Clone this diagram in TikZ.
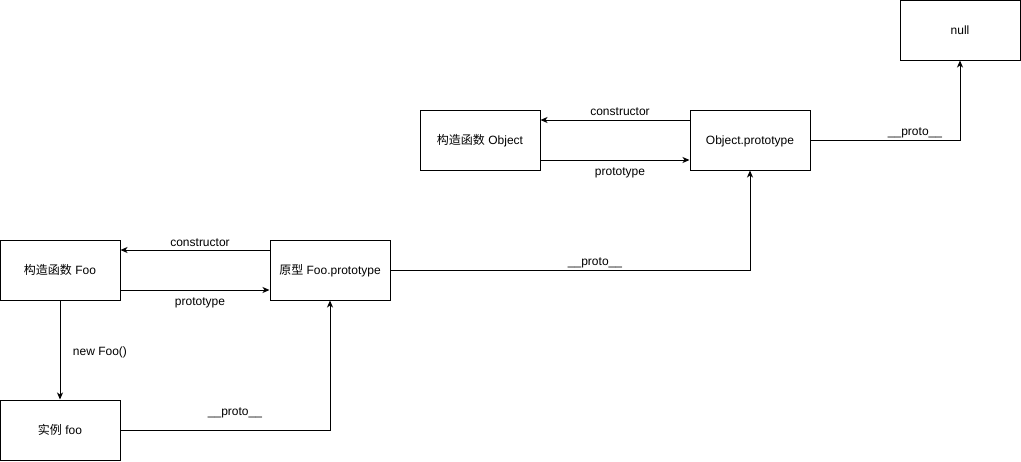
\documentclass[tikz,border=0pt]{standalone}
\usepackage{fontspec}
\setmainfont{Liberation Sans}
\newfontfamily\cjk{Noto Sans CJK SC}
\usetikzlibrary{arrows.meta}
\begin{document}
\begin{tikzpicture}[x=1pt,y=-1pt,
  box/.style={draw,line width=1pt,minimum width=120pt,minimum height=60pt,inner sep=0pt,font=\fontsize{12}{14}\selectfont,text height=10pt,text depth=2pt},
  conn/.style={line width=1pt,-{Stealth[length=7pt,width=6pt,inset=2pt]}},
  lbl/.style={font=\fontsize{12}{14}\selectfont,inner sep=1pt,yshift=-1.5pt}]
\useasboundingbox (0,0) rectangle (1021,461);
\node[box] (null) at (960,30) {null};
\node[box] (cobj) at (480,140) {{\cjk 构造函数} Object};
\node[box] (oproto) at (750,140) {Object.prototype};
\node[box] (cfoo) at (60,270) {{\cjk 构造函数} Foo};
\node[box] (fproto) at (330,270) {{\cjk 原型} Foo.prototype};
\node[box] (foo) at (60,430) {{\cjk 实例} foo};
% Object
\draw[conn] (oproto.west |- 0,120) -- (cobj.east |- 0,120);
\node[lbl] (l1) at (620,110) {constructor};
\draw[conn] (cobj.east |- 0,160) -- (oproto.west |- 0,160);
\node[lbl] (l2) at (620,171) {prototype};
\draw[conn] (oproto.east) -| (null.south);
\node[lbl] (l3) at (915,131) {\_\_proto\_\_};
% Foo
\draw[conn] (fproto.west |- 0,250) -- (cfoo.east |- 0,250);
\node[lbl] (l4) at (200,241) {constructor};
\draw[conn] (cfoo.east |- 0,290) -- (fproto.west |- 0,290);
\node[lbl] (l5) at (200,301) {prototype};
\draw[conn] (fproto.east) -| (oproto.south);
\node[lbl] (l6) at (595,261) {\_\_proto\_\_};
\draw[conn] (cfoo.south) -- (foo.north);
\node[lbl] (l7) at (100,351) {new Foo()};
\draw[conn] (foo.east) -| (fproto.south);
\node[lbl] (l8) at (235,411) {\_\_proto\_\_};
\end{tikzpicture}
\end{document}
